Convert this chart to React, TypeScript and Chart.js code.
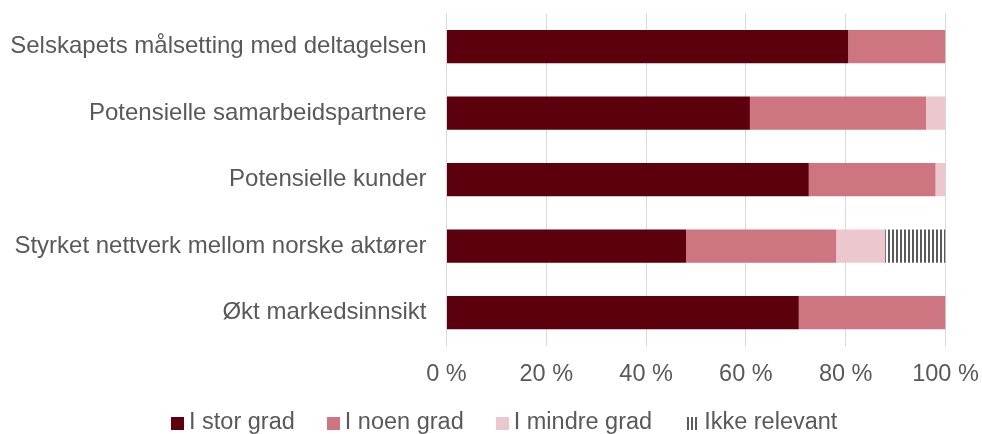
import React, { useEffect, useRef } from "react";
import { Chart, registerables } from "chart.js";

Chart.register(...registerables);

// ---- Data ----
const categories = [
  "Selskapets målsetting med deltagelsen",
  "Potensielle samarbeidspartnere",
  "Potensielle kunder",
  "Styrket nettverk mellom norske aktører",
  "Økt markedsinnsikt",
];
const seriesNames = ["I stor grad", "I noen grad", "I mindre grad", "Ikke relevant"];
const storGrad = [80.5, 60.8, 72.6, 48.0, 70.6];
const noenGrad = [19.5, 35.3, 25.4, 30.1, 29.4];
const mindreGrad = [0, 3.9, 2.0, 9.8, 0];
const ikkeRelevant = [0, 0, 0, 12.1, 0];
const xTickValues = [0, 20, 40, 60, 80, 100];
const xTickLabels = ["0 %", "20 %", "40 %", "60 %", "80 %", "100 %"];

// ---- Styles ----
const COLOR_DARK = "#5c000e";
const COLOR_MID = "#cd7580";
const COLOR_LIGHT = "#ecc8ce";
const TEXT_COLOR = "#595959";
const GRID_COLOR = "#d9d9d9";
const FONT_FAMILY = "'Liberation Sans', Arial, sans-serif";

function makeHatch(): CanvasPattern | string {
  const c = document.createElement("canvas");
  c.width = 4;
  c.height = 4;
  const g = c.getContext("2d");
  if (!g) return "#888";
  g.fillStyle = "#ffffff";
  g.fillRect(0, 0, 4, 4);
  g.fillStyle = "#5a5a5a";
  g.fillRect(0, 0, 2, 4);
  return g.createPattern(c, "repeat") || "#888";
}

export default function App() {
  const canvasRef = useRef<HTMLCanvasElement | null>(null);

  useEffect(() => {
    document.body.style.margin = "0";
    const canvas = canvasRef.current;
    if (!canvas) return;
    Chart.defaults.font.family = FONT_FAMILY;
    const hatch = makeHatch();
    const colors = [COLOR_DARK, COLOR_MID, COLOR_LIGHT, hatch];
    const series = [storGrad, noenGrad, mindreGrad, ikkeRelevant];

    const chart = new Chart(canvas, {
      type: "bar",
      data: {
        labels: categories,
        datasets: series.map((d, i) => ({
          label: seriesNames[i],
          data: d,
          backgroundColor: colors[i] as any,
          borderWidth: 0,
          barPercentage: 0.5,
          categoryPercentage: 1,
        })),
      },
      options: {
        indexAxis: "y",
        responsive: false,
        animation: false,
        devicePixelRatio: 1,
        layout: { padding: { left: 0, right: 36.5, top: 13.5, bottom: 30 } },
        plugins: {
          legend: { display: false },
          tooltip: { enabled: false },
        },
        scales: {
          x: {
            stacked: true,
            min: 0,
            max: 100,
            grid: { color: GRID_COLOR, lineWidth: 1, drawTicks: false },
            border: { display: false },
            afterBuildTicks: (s: any) => {
              s.ticks = xTickValues.map((v) => ({ value: v }));
            },
            ticks: {
              padding: 15,
              color: TEXT_COLOR,
              font: { size: 23.5 },
              maxRotation: 0,
              autoSkip: false,
              callback: (_v: any, i: number) => xTickLabels[i],
            },
            afterFit: (s: any) => {
              s.paddingLeft = 0;
              s.paddingRight = 0;
            },
          },
          y: {
            stacked: true,
            grid: { display: false, drawTicks: false },
            border: { display: false },
            ticks: {
              padding: 20,
              color: TEXT_COLOR,
              font: { size: 24 },
            },
            afterFit: (s: any) => {
              s.width = 446.5;
              s.paddingTop = 0;
              s.paddingBottom = 0;
            },
          },
        },
      },
    });
    return () => chart.destroy();
  }, []);

  const legendColors = [COLOR_DARK, COLOR_MID, COLOR_LIGHT];

  return (
    <div style={{ position: "relative", width: 982, height: 434, background: "#fff" }}>
      <canvas ref={canvasRef} width={982} height={434} style={{ display: "block" }} />
      <div
        style={{
          position: "absolute",
          left: 171,
          top: 408,
          height: 27,
          display: "flex",
          alignItems: "flex-start",
          fontFamily: FONT_FAMILY,
          fontSize: "23.5px",
          lineHeight: "27px",
          color: TEXT_COLOR,
          whiteSpace: "nowrap",
        }}
      >
        {seriesNames.map((name, i) => (
          <div key={name} style={{ display: "flex", alignItems: "flex-start", marginRight: i < 2 ? 32 : 35 }}>
            {i < 3 ? (
              <span
                style={{
                  display: "inline-block",
                  width: 13,
                  height: 13,
                  marginTop: 9,
                  marginRight: 5,
                  background: legendColors[i],
                }}
              />
            ) : (
              <span
                style={{
                  display: "inline-block",
                  width: 10,
                  height: 13,
                  marginTop: 9,
                  marginRight: 7,
                  background:
                    "repeating-linear-gradient(90deg, #5a5a5a 0px, #5a5a5a 2px, transparent 2px, transparent 4px)",
                }}
              />
            )}
            <span>{name}</span>
          </div>
        ))}
      </div>
    </div>
  );
}
